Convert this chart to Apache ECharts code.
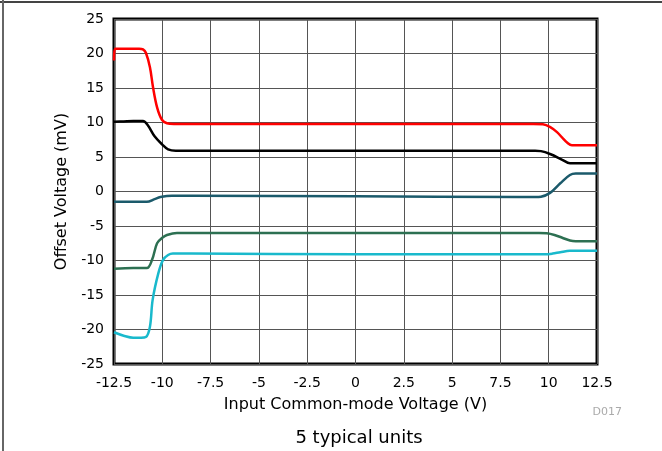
<!DOCTYPE html>
<html>
<head>
<meta charset="utf-8">
<script src="https://cdn.jsdelivr.net/npm/echarts@6/dist/echarts.min.js"></script>
<style>
  html, body { margin: 0; padding: 0; background: #fff; }
  #chart { width: 662px; height: 451px; }
</style>
</head>
<body>
<div id="chart"></div>
<script>
  // 5 typical units, offset voltage (mV) vs input common-mode voltage (V)
  var xTicks = [-12.5, -10, -7.5, -5, -2.5, 0, 2.5, 5, 7.5, 10, 12.5]
  var yTicks = [-25, -20, -15, -10, -5, 0, 5, 10, 15, 20, 25]

  var unitRed = [[-12.5, 19.0], [-12.45, 20.7], [-12, 20.7], [-11.5, 20.7], [-11.2, 20.7], [-11.0, 20.6], [-10.85, 20.1],
    [-10.64, 18.0], [-10.48, 15.1], [-10.27, 12.2], [-10.02, 10.4], [-9.76, 9.9], [-9.4, 9.8], [-9, 9.8], [-8, 9.8],
    [0, 9.8], [8, 9.8], [9.2, 9.8], [9.7, 9.75], [10.1, 9.3], [10.43, 8.6], [10.7, 7.8], [10.95, 7.1], [11.2, 6.7],
    [11.6, 6.7], [12.5, 6.7]]
  var unitBlack = [[-12.5, 10.1], [-12, 10.15], [-11.5, 10.2], [-11.0, 10.2], [-10.75, 9.6], [-10.4, 8.0], [-10.0, 6.8],
    [-9.7, 6.1], [-9.3, 5.9], [-8.5, 5.9], [0, 5.9], [8.5, 5.9], [9.3, 5.9], [9.6, 5.85], [10.1, 5.4], [10.7, 4.6],
    [11.1, 4.1], [11.6, 4.1], [12.5, 4.1]]
  var unitTeal = [[-12.5, -1.5], [-11.5, -1.5], [-10.8, -1.5], [-10.4, -1.1], [-10.1, -0.8], [-9.5, -0.6], [-8.5, -0.6],
    [0, -0.7], [8.5, -0.8], [9.3, -0.8], [9.6, -0.75], [10.07, -0.2], [10.6, 1.2], [11.1, 2.4], [11.4, 2.6],
    [12, 2.6], [12.5, 2.6]]
  var unitGreen = [[-12.5, -11.2], [-11.5, -11.1], [-10.8, -11.1], [-10.53, -9.9], [-10.27, -7.5], [-10.0, -6.7],
    [-9.76, -6.3], [-9.24, -6.0], [-8.5, -6.0], [0, -6.0], [8.5, -6.0], [9.5, -6.0], [9.9, -6.05], [10.3, -6.3],
    [10.7, -6.7], [11.1, -7.1], [11.4, -7.2], [12, -7.2], [12.5, -7.2]]
  var unitCyan = [[-12.5, -20.4], [-12.0, -20.9], [-11.5, -21.2], [-11.1, -21.2], [-10.85, -21.1], [-10.64, -19.6],
    [-10.5, -15.7], [-10.2, -11.8], [-9.96, -9.9], [-9.7, -9.2], [-9.45, -9.0], [-8.5, -9.0], [0, -9.1], [8.5, -9.1],
    [9.8, -9.1], [10.2, -9.0], [10.6, -8.8], [11.1, -8.6], [11.6, -8.6], [12.5, -8.6]]

  var font = 'DejaVu Sans, sans-serif'

  function line(name, data, color, width) {
    return {
      name: name, type: 'line', data: data, showSymbol: false,
      smooth: 0.35,
      lineStyle: { color: color, width: width },
      animation: false
    }
  }

  var chart = echarts.init(document.getElementById('chart'))
  chart.setOption({
    backgroundColor: '#fff',
    grid: {
      left: 114, right: 65, top: 19, bottom: 87,
      show: true, borderColor: '#000', borderWidth: 3, backgroundColor: 'transparent'
    },
    xAxis: {
      type: 'value', min: -12.5, max: 12.5, interval: 2.5,
      name: 'Input Common-mode Voltage (V)', nameLocation: 'middle', nameGap: 33,
      nameTextStyle: { fontFamily: font, fontSize: 16, color: '#000' },
      axisLine: { show: false }, axisTick: { show: false },
      axisLabel: { fontFamily: font, fontSize: 14, color: '#000', margin: 12,
        formatter: function (v) { return xTicks.indexOf(v) >= 0 ? String(v) : '' } },
      splitLine: { lineStyle: { color: '#555', width: 1 } }
    },
    yAxis: {
      type: 'value', min: -25, max: 25, interval: 5,
      name: 'Offset Voltage (mV)', nameLocation: 'middle', nameGap: 44,
      nameTextStyle: { fontFamily: font, fontSize: 16, color: '#000' },
      axisLine: { show: false }, axisTick: { show: false },
      axisLabel: { fontFamily: font, fontSize: 14, color: '#000', margin: 10,
        formatter: function (v) { return yTicks.indexOf(v) >= 0 ? String(v) : '' } },
      splitLine: { lineStyle: { color: '#555', width: 1 } }
    },
    graphic: [
      { type: 'line', shape: { x1: 0, y1: 2, x2: 662, y2: 2 }, style: { stroke: '#444', lineWidth: 2 } },
      { type: 'line', shape: { x1: 3, y1: 0, x2: 3, y2: 451 }, style: { stroke: '#666', lineWidth: 2 } },
      { type: 'text', x: 622, y: 412,
        style: { text: 'D017', fontFamily: font, fontSize: 11, fill: '#aaa', textAlign: 'right', textVerticalAlign: 'middle' } },
      { type: 'text', x: 359, y: 438,
        style: { text: '5 typical units', fontFamily: font, fontSize: 18, fill: '#000', textAlign: 'center', textVerticalAlign: 'middle' } }
    ],
    series: [
      line('unit 1', unitRed, '#ff0000', 2.5),
      line('unit 2', unitBlack, '#000000', 2.5),
      line('unit 3', unitTeal, '#1b5a6b', 2.5),
      line('unit 4', unitGreen, '#2d7052', 2.5),
      line('unit 5', unitCyan, '#19b9cc', 2.5)
    ]
  })
</script>
</body>
</html>
